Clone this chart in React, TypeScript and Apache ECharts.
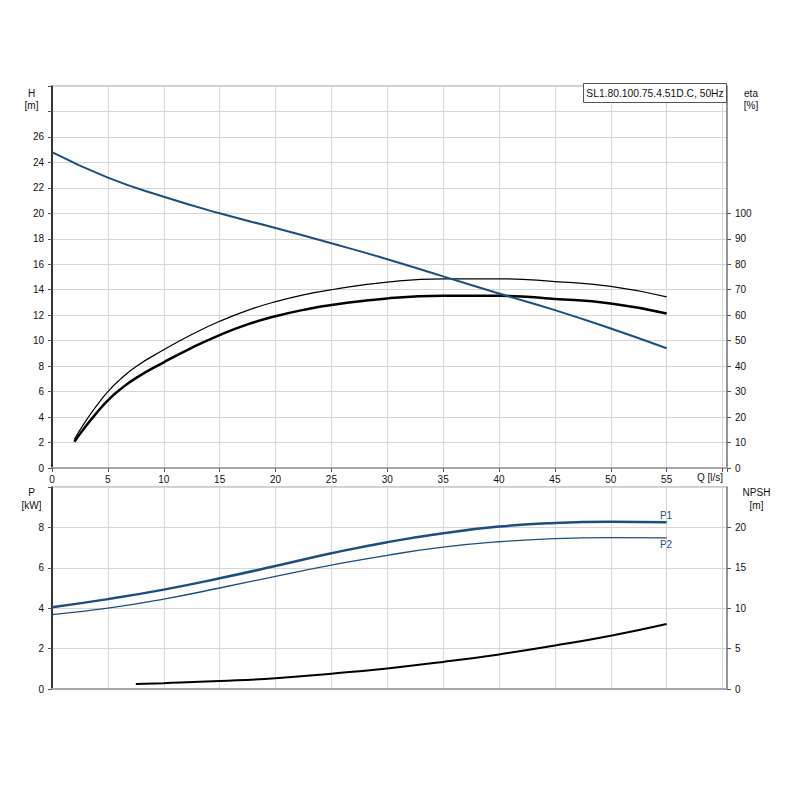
import React, { useEffect, useRef } from "react";
import * as echarts from "echarts";

// Flow values (l/s)
const qMain = [0, 5, 10, 15, 20, 25, 30, 35, 40, 45, 50, 55];
// Head H [m]
const headH = [24.8, 22.8, 21.3, 20.0, 18.85, 17.65, 16.4, 15.05, 13.7, 12.4, 10.95, 9.4];

// Efficiency curves [%]
const qEta = [2, 3, 4, 5, 6, 7.5, 10, 12.5, 15, 17.5, 20, 22.5, 25, 30, 35, 40, 45, 50, 55];
const etaThin = [11.3, 18.3, 24.5, 30.0, 34.4, 39.8, 46.4, 52.4, 57.6, 61.9, 65.3, 68.0, 70.0, 73.0, 74.3, 74.3, 73.2, 71.3, 67.2];
const etaThick = [10.3, 16.3, 21.7, 26.6, 30.5, 35.3, 41.5, 47.2, 52.2, 56.4, 59.6, 62.1, 64.0, 66.6, 67.6, 67.6, 66.4, 64.6, 60.7];

// Power [kW]
const powerP1 = [4.05, 4.45, 4.92, 5.48, 6.09, 6.72, 7.27, 7.71, 8.04, 8.22, 8.28, 8.26];
const powerP2 = [3.68, 4.0, 4.45, 5.0, 5.58, 6.13, 6.62, 7.02, 7.29, 7.44, 7.49, 7.48];

// NPSH [m]
const qNpsh = [7.5, 10, 15, 20, 25, 30, 35, 40, 45, 50, 55];
const npsh = [0.62, 0.72, 0.98, 1.33, 1.9, 2.55, 3.35, 4.28, 5.38, 6.6, 8.05];

// Tick values shown on right axes
const etaTicks = [0, 10, 20, 30, 40, 50, 60, 70, 80, 90, 100];
const npshTicks = [0, 5, 10, 15, 20];

const titleText = "SL1.80.100.75.4.51D.C, 50Hz";

const pairs = (xs: number[], ys: number[]) => xs.map((x, i) => [x, ys[i]]);

const FONT = "Liberation Sans, Arial, sans-serif";
const BLUE = "#1d4e7e";
const GRID_COLOR = "#d6d6d6";
const TXT = "#111";

export default function App() {
  const ref = useRef<HTMLDivElement>(null);

  useEffect(() => {
    const chart = echarts.init(ref.current!, null, { renderer: "svg" });

    const labelStyle = { color: TXT, fontSize: 10, fontFamily: FONT };

    const xAxisBase = {
      type: "value" as const,
      min: 0,
      max: 60.4,
      interval: 5,
      splitLine: { show: true, lineStyle: { color: GRID_COLOR, width: 1 } },
      axisLine: { show: true, lineStyle: { color: "#a8a8a8", width: 2 } },
    };

    const lineBase = { type: "line", smooth: 0.5, showSymbol: false };

    const option: any = {
      animation: false,
      backgroundColor: "#fff",
      textStyle: { fontFamily: FONT },
      grid: [
        { left: 52, right: 73, top: 86, height: 382, show: true, borderColor: "#9a9a9a", borderWidth: 1, containLabel: false },
        { left: 52, right: 73, top: 487, height: 202, show: true, borderColor: "#9a9a9a", borderWidth: 1, containLabel: false },
      ],
      xAxis: [
        {
          ...xAxisBase,
          gridIndex: 0,
          axisTick: { show: true, length: 4, lineStyle: { color: "#555" } },
          axisLabel: {
            ...labelStyle,
            margin: 6,
            formatter: (v: number) => (v > 55 ? "" : String(v)),
          },
        },
        {
          ...xAxisBase,
          gridIndex: 1,
          axisTick: { show: false },
          axisLabel: { show: false },
        },
      ],
      yAxis: [
        {
          type: "value",
          gridIndex: 0,
          min: 0,
          max: 30,
          interval: 2,
          position: "left",
          axisLine: { show: true, lineStyle: { color: "#000", width: 1.5 } },
          axisTick: { show: true, length: 4, lineStyle: { color: "#555" } },
          splitLine: { show: true, lineStyle: { color: GRID_COLOR, width: 1 } },
          axisLabel: { ...labelStyle, margin: 8, formatter: (v: number) => (v > 26 ? "" : String(v)) },
        },
        {
          type: "value",
          gridIndex: 0,
          min: 0,
          max: 150,
          interval: 10,
          position: "right",
          axisLine: { show: true, lineStyle: { color: "#808080", width: 1.5 } },
          axisTick: { show: true, length: 4, customValues: etaTicks, lineStyle: { color: "#555" } },
          splitLine: { show: false },
          axisLabel: { ...labelStyle, margin: 8, formatter: (v: number) => (v > 100 ? "" : String(v)) },
        },
        {
          type: "value",
          gridIndex: 1,
          min: 0,
          max: 10,
          interval: 2,
          position: "left",
          axisLine: { show: true, lineStyle: { color: "#000", width: 1.5 } },
          axisTick: { show: true, length: 4, lineStyle: { color: "#555" } },
          splitLine: { show: true, lineStyle: { color: GRID_COLOR, width: 1 } },
          axisLabel: { ...labelStyle, margin: 8, formatter: (v: number) => (v > 8 ? "" : String(v)) },
        },
        {
          type: "value",
          gridIndex: 1,
          min: 0,
          max: 25,
          interval: 5,
          position: "right",
          axisLine: { show: true, lineStyle: { color: "#808080", width: 1.5 } },
          axisTick: { show: true, length: 4, customValues: npshTicks, lineStyle: { color: "#555" } },
          splitLine: { show: false },
          axisLabel: { ...labelStyle, margin: 8, formatter: (v: number) => (v > 20 ? "" : String(v)) },
        },
      ],
      series: [
        { ...lineBase, name: "H", xAxisIndex: 0, yAxisIndex: 0, data: pairs(qMain, headH), lineStyle: { color: BLUE, width: 2 }, z: 5 },
        { ...lineBase, name: "eta1", xAxisIndex: 0, yAxisIndex: 1, data: pairs(qEta, etaThin), lineStyle: { color: "#000", width: 1.2 } },
        { ...lineBase, name: "eta2", xAxisIndex: 0, yAxisIndex: 1, data: pairs(qEta, etaThick), lineStyle: { color: "#000", width: 2.5 } },
        { ...lineBase, name: "P1", xAxisIndex: 1, yAxisIndex: 2, data: pairs(qMain, powerP1), lineStyle: { color: BLUE, width: 2.5 } },
        { ...lineBase, name: "P2", xAxisIndex: 1, yAxisIndex: 2, data: pairs(qMain, powerP2), lineStyle: { color: BLUE, width: 1.3 } },
        { ...lineBase, name: "NPSH", xAxisIndex: 1, yAxisIndex: 3, data: pairs(qNpsh, npsh), lineStyle: { color: "#000", width: 2 } },
      ],
      graphic: [
        { type: "text", x: 31.5, y: 93, style: { text: "H", fill: TXT, font: `10px ${FONT}`, align: "center", verticalAlign: "middle" } },
        { type: "text", x: 31.5, y: 105, style: { text: "[m]", fill: TXT, font: `10px ${FONT}`, align: "center", verticalAlign: "middle" } },
        { type: "text", x: 751, y: 93, style: { text: "eta", fill: TXT, font: `10px ${FONT}`, align: "center", verticalAlign: "middle" } },
        { type: "text", x: 751, y: 105, style: { text: "[%]", fill: TXT, font: `10px ${FONT}`, align: "center", verticalAlign: "middle" } },
        { type: "text", x: 31.5, y: 492, style: { text: "P", fill: TXT, font: `10px ${FONT}`, align: "center", verticalAlign: "middle" } },
        { type: "text", x: 31.5, y: 505, style: { text: "[kW]", fill: TXT, font: `10px ${FONT}`, align: "center", verticalAlign: "middle" } },
        { type: "text", x: 756.5, y: 492, style: { text: "NPSH", fill: TXT, font: `10px ${FONT}`, align: "center", verticalAlign: "middle" } },
        { type: "text", x: 756.5, y: 505, style: { text: "[m]", fill: TXT, font: `10px ${FONT}`, align: "center", verticalAlign: "middle" } },
        { type: "text", x: 710, y: 477.5, style: { text: "Q [l/s]", fill: TXT, font: `10px ${FONT}`, align: "center", verticalAlign: "middle" } },
        { type: "text", x: 666, y: 515, style: { text: "P1", fill: BLUE, font: `10px ${FONT}`, align: "center", verticalAlign: "middle" } },
        { type: "text", x: 666, y: 544.5, style: { text: "P2", fill: BLUE, font: `10px ${FONT}`, align: "center", verticalAlign: "middle" } },
        {
          type: "rect",
          shape: { x: 583.5, y: 83.5, width: 143, height: 19 },
          style: { fill: "#fff", stroke: "#555", lineWidth: 1 },
          z: 100,
        },
        {
          type: "text",
          x: 655,
          y: 93.5,
          z: 101,
          style: { text: titleText, fill: TXT, font: `10.3px ${FONT}`, align: "center", verticalAlign: "middle" },
        },
      ],
    };

    chart.setOption(option);
    return () => chart.dispose();
  }, []);

  return <div ref={ref} style={{ position: "absolute", left: 0, top: 0, width: 800, height: 800 }} />;
}
